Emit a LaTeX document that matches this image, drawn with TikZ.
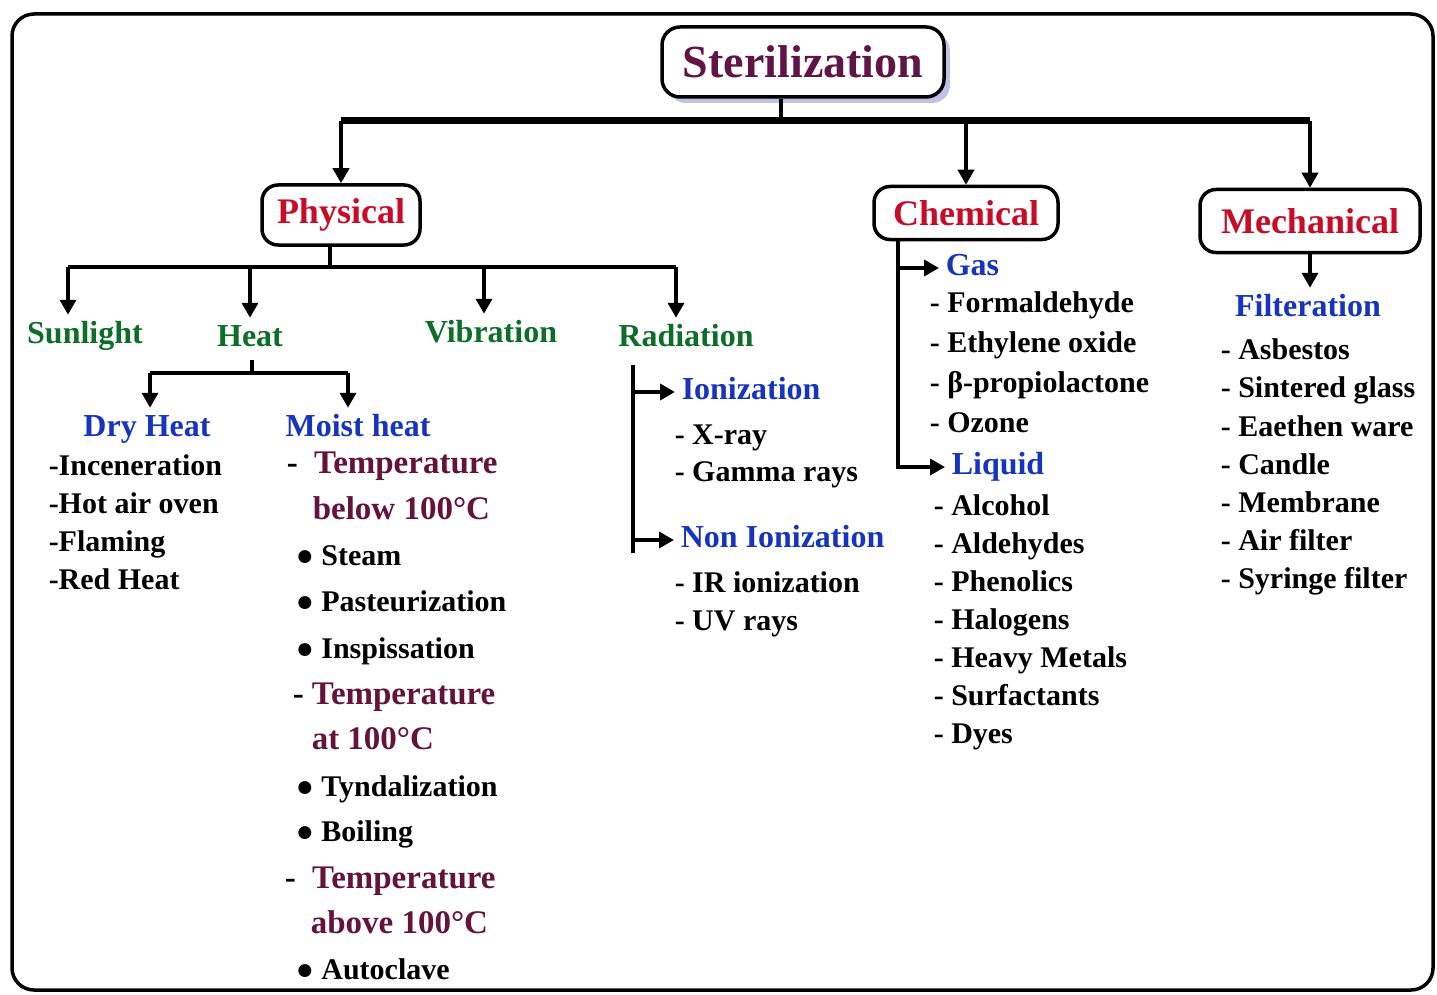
\documentclass[tikz,border=0pt]{standalone}
\usepackage{xcolor}
\usepackage{fontspec}
\setmainfont{Liberation Serif}
\usetikzlibrary{arrows.meta,shadows,positioning}

\definecolor{sterpurple}{RGB}{95,22,70}
\definecolor{catred}{RGB}{200,12,40}
\definecolor{subgreen}{RGB}{12,110,40}
\definecolor{headblue}{RGB}{22,52,190}
\definecolor{tempred}{RGB}{100,20,60}

\begin{document}
\begin{tikzpicture}
	[x=1pt, y=-1pt, line width=3.5pt,
	every node/.style={inner sep=0pt},
	arr/.style={-{Triangle[length=15pt,width=16pt]}},
	mainbox/.style={draw, rounded corners=18pt, line width=3.5pt, fill=white, text=sterpurple, font=\bfseries\fontsize{46}{50}\selectfont, minimum width=282pt, minimum height=70pt, drop shadow={shadow xshift=6pt, shadow yshift=-6pt, fill=blue!40!gray, opacity=.35}},
	catbox/.style={draw, rounded corners=16pt, line width=3.5pt, text=catred, font=\bfseries\fontsize{36}{40}\selectfont},
	sub/.style={text=subgreen, font=\bfseries\fontsize{32}{36}\selectfont, inner sep=5pt, text height=22pt, text depth=7pt},
	head/.style={text=headblue, font=\bfseries\fontsize{32}{36}\selectfont, inner sep=5pt, text height=22pt, text depth=7pt},
	item/.style={anchor=west, font=\bfseries\fontsize{30}{34}\selectfont, text height=20pt, text depth=6pt},
	temp/.style={anchor=west, text=tempred, font=\bfseries\fontsize{33}{37}\selectfont, text height=22pt, text depth=7pt}]
	\useasboundingbox (0,0) rectangle (1437,995);
	\draw[line width=3.5pt, rounded corners=22pt] (12,14) rectangle (1433,990);

	\node[mainbox] (ster) at (803,62) {Sterilization};
	\node[catbox, minimum width=158pt, minimum height=60pt] (phys) at (341,215) {Physical};
	\node[catbox, minimum width=184pt, minimum height=53pt] (chem) at (966,213) {Chemical};
	\node[catbox, minimum width=220pt, minimum height=63pt] (mech) at (1310,221) {Mechanical};

	\coordinate (trunk) at (781,121);
	\draw (ster.south -| trunk) -- (trunk);
	\draw[line width=7pt] (trunk -| phys) -- (trunk -| mech);
	\draw[arr] (trunk -| phys) -- (phys.north);
	\draw[arr] (trunk -| chem) -- (chem.north);
	\draw[arr] (trunk -| mech) -- (mech.north);

	\node[sub] (sun) at (85,336) {Sunlight};
	\node[sub] (heat) at (250,339) {Heat};
	\node[sub] (vib) at (491,335) {Vibration};
	\node[sub] (rad) at (686,339) {Radiation};
	\coordinate (physbar) at (330,267);
	\draw (phys.south -| physbar) -- (physbar);
	\draw[line width=4pt] ([xshift=-17pt]physbar -| sun) -- ([xshift=-10pt]physbar -| rad);
	\draw[arr] ([xshift=-17pt]physbar -| sun) -- ([xshift=-17pt]sun.north);
	\draw[arr] (physbar -| heat) -- (heat.north);
	\draw[arr] ([xshift=-7pt]physbar -| vib) -- ([xshift=-7pt]vib.north);
	\draw[arr] ([xshift=-10pt]physbar -| rad) -- ([xshift=-10pt]rad.north);

	\node[head] (dry) at (147,429) {Dry Heat};
	\node[head] (moist) at (358,429) {Moist heat};
	\coordinate (heatbar) at (252,373);
	\draw (heat.south -| heatbar) -- (heatbar);
	\draw ([xshift=3pt]heatbar -| dry) -- ([xshift=-10pt]heatbar -| moist);
	\draw[arr] ([xshift=3pt]heatbar -| dry) -- ([xshift=3pt]dry.north);
	\draw[arr] ([xshift=-10pt]heatbar -| moist) -- ([xshift=-10pt]moist.north);

	\node[item] (dry1) at (47,468) {-Inceneration};
	\node[item] (dry2) at (47,506) {-Hot air oven};
	\node[item] (dry3) at (47,544) {-Flaming};
	\node[item] (dry4) at (47,582) {-Red Heat};

	\node[temp] (moist1) at (285,466) {\textcolor{black}{-}\ \ Temperature};
	\node[temp] (moist2) at (311,512) {below 100°C};
	\node[item] (moist3) at (294,558) {● Steam};
	\node[item] (moist4) at (294,604) {● Pasteurization};
	\node[item] (moist5) at (294,651) {● Inspissation};
	\node[temp] (moist6) at (291,697) {\textcolor{black}{-} Temperature};
	\node[temp] (moist7) at (310,742) {at 100°C};
	\node[item] (moist8) at (294,789) {● Tyndalization};
	\node[item] (moist9) at (294,834) {● Boiling};
	\node[temp] (moist10) at (283,881) {\textcolor{black}{-}\ \ Temperature};
	\node[temp] (moist11) at (309,926) {above 100°C};
	\node[item] (moist12) at (294,972) {● Autoclave};

	\coordinate (radtop) at (633,365);
	\coordinate (radbot) at (633,553);
	\node[head, anchor=west] (ion) at (675,392) {Ionization};
	\node[head, anchor=west] (nonion) at (674,540) {Non Ionization};
	\draw (radtop) -- (radbot);
	\draw[arr] (ion.west -| radtop) -- (ion.west);
	\draw[arr] (nonion.west -| radtop) -- (nonion.west);
	\node[item] (ion1) at (673,437) {- X-ray};
	\node[item] (ion2) at (673,474) {- Gamma rays};
	\node[item] (nonion1) at (673,585) {- IR ionization};
	\node[item] (nonion2) at (673,623) {- UV rays};

	\coordinate (chemline) at (898,0);
	\node[head, anchor=west] (gas) at (939,268) {Gas};
	\node[head, anchor=west] (liq) at (945,467) {Liquid};
	\draw[arr] (chem.south -| chemline) -- (liq.west -| chemline) -- (liq.west);
	\draw[arr] (gas.west -| chemline) -- (gas.west);
	\node[item] (gas1) at (928,305) {- Formaldehyde};
	\node[item] (gas2) at (928,345) {- Ethylene oxide};
	\node[item] (gas3) at (928,385) {- β-propiolactone};
	\node[item] (gas4) at (928,425) {- Ozone};
	\node[item] (liq1) at (932,508) {- Alcohol};
	\node[item] (liq2) at (932,546) {- Aldehydes};
	\node[item] (liq3) at (932,584) {- Phenolics};
	\node[item] (liq4) at (932,622) {- Halogens};
	\node[item] (liq5) at (932,660) {- Heavy Metals};
	\node[item] (liq6) at (932,698) {- Surfactants};
	\node[item] (liq7) at (932,736) {- Dyes};

	\node[head] (filt) at (1308,309) {Filteration};
	\draw[arr] (mech.south) -- (mech.south |- filt.north);
	\node[item] (filt1) at (1219,352) {- Asbestos};
	\node[item] (filt2) at (1219,390) {- Sintered glass};
	\node[item] (filt3) at (1219,429) {- Eaethen ware};
	\node[item] (filt4) at (1219,467) {- Candle};
	\node[item] (filt5) at (1219,505) {- Membrane};
	\node[item] (filt6) at (1219,543) {- Air filter};
	\node[item] (filt7) at (1219,581) {- Syringe filter};
\end{tikzpicture}
\end{document}
